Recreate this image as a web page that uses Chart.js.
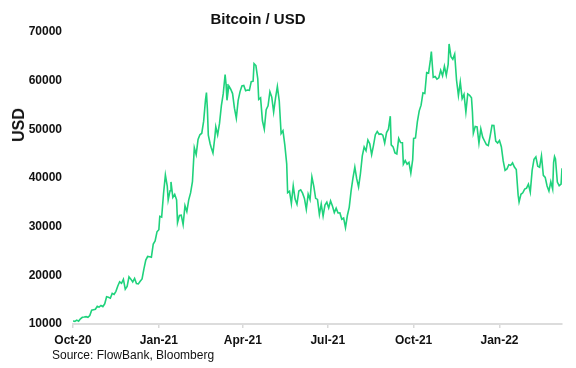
<!DOCTYPE html>
<html>
<head>
<meta charset="utf-8">
<script src="https://cdn.jsdelivr.net/npm/chart.js@4.4.1/dist/chart.umd.min.js"></script>
<style>
  html, body { margin: 0; padding: 0; background: #fff; }
  #wrap { position: relative; width: 576px; height: 368px; font-family: "Liberation Sans", Arial, sans-serif; }
  #title { position: absolute; left: 0; width: 516px; top: 10px; text-align: center; font-weight: bold; font-size: 15px; color: #111; }
  #ytitle { position: absolute; left: 19px; top: 125px; transform: translate(-50%, -50%) rotate(-90deg); font-weight: bold; font-size: 16px; color: #111; white-space: nowrap; }
  #source { position: absolute; left: 52px; top: 348px; font-size: 12px; color: #111; }
</style>
</head>
<body>
<div id="wrap">
  <canvas id="btcChart" width="576" height="368"></canvas>
  <div id="title">Bitcoin / USD</div>
  <div id="ytitle">USD</div>
  <div id="source">Source: FlowBank, Bloomberg</div>
</div>
<script>
// dates of the sampled closes (YYYY-MM-DD)
const dates = [
  "2020-10-01","2020-10-03","2020-10-05","2020-10-07","2020-10-09","2020-10-11","2020-10-13","2020-10-15","2020-10-17","2020-10-19","2020-10-21","2020-10-23","2020-10-25","2020-10-27","2020-10-29","2020-10-31",
  "2020-11-02","2020-11-04","2020-11-06","2020-11-08","2020-11-10","2020-11-12","2020-11-14","2020-11-16","2020-11-18","2020-11-20","2020-11-22","2020-11-24","2020-11-26","2020-11-28","2020-11-30",
  "2020-12-02","2020-12-04","2020-12-06","2020-12-08","2020-12-10","2020-12-12","2020-12-14","2020-12-16","2020-12-18","2020-12-20","2020-12-22","2020-12-24","2020-12-26","2020-12-28","2020-12-30",
  "2021-01-01","2021-01-02","2021-01-04","2021-01-06","2021-01-08","2021-01-10","2021-01-11","2021-01-13","2021-01-14","2021-01-16","2021-01-18","2021-01-20","2021-01-21","2021-01-23","2021-01-25","2021-01-27","2021-01-29","2021-01-31",
  "2021-02-02","2021-02-04","2021-02-06","2021-02-08","2021-02-10","2021-02-12","2021-02-14","2021-02-16","2021-02-18","2021-02-20","2021-02-21","2021-02-22","2021-02-23","2021-02-25","2021-02-26","2021-02-28",
  "2021-03-02","2021-03-03","2021-03-05","2021-03-07","2021-03-09","2021-03-11","2021-03-13","2021-03-14","2021-03-15","2021-03-17","2021-03-19","2021-03-21","2021-03-23","2021-03-25","2021-03-27","2021-03-29","2021-03-31",
  "2021-04-02","2021-04-04","2021-04-06","2021-04-08","2021-04-10","2021-04-12","2021-04-13","2021-04-15","2021-04-17","2021-04-18","2021-04-20","2021-04-22","2021-04-24","2021-04-26","2021-04-28","2021-04-30",
  "2021-05-02","2021-05-04","2021-05-06","2021-05-08","2021-05-10","2021-05-12","2021-05-14","2021-05-16","2021-05-18","2021-05-19","2021-05-21","2021-05-23","2021-05-25","2021-05-27","2021-05-29","2021-05-31",
  "2021-06-02","2021-06-04","2021-06-06","2021-06-08","2021-06-10","2021-06-12","2021-06-14","2021-06-16","2021-06-18","2021-06-20","2021-06-22","2021-06-24","2021-06-26","2021-06-28","2021-06-30",
  "2021-07-02","2021-07-04","2021-07-06","2021-07-08","2021-07-10","2021-07-12","2021-07-14","2021-07-16","2021-07-18","2021-07-20","2021-07-22","2021-07-24","2021-07-26","2021-07-28","2021-07-30",
  "2021-08-01","2021-08-03","2021-08-05","2021-08-07","2021-08-09","2021-08-11","2021-08-13","2021-08-15","2021-08-17","2021-08-19","2021-08-21","2021-08-23","2021-08-25","2021-08-27","2021-08-29","2021-08-31",
  "2021-09-02","2021-09-04","2021-09-06","2021-09-07","2021-09-09","2021-09-11","2021-09-13","2021-09-15","2021-09-17","2021-09-19","2021-09-20","2021-09-22","2021-09-24","2021-09-26","2021-09-28","2021-09-30",
  "2021-10-01","2021-10-03","2021-10-05","2021-10-07","2021-10-09","2021-10-11","2021-10-13","2021-10-15","2021-10-17","2021-10-19","2021-10-20","2021-10-22","2021-10-24","2021-10-26","2021-10-28","2021-10-30",
  "2021-11-01","2021-11-03","2021-11-05","2021-11-07","2021-11-08","2021-11-10","2021-11-12","2021-11-14","2021-11-16","2021-11-18","2021-11-20","2021-11-22","2021-11-24","2021-11-26","2021-11-28","2021-11-30",
  "2021-12-02","2021-12-03","2021-12-04","2021-12-06","2021-12-08","2021-12-10","2021-12-12","2021-12-14","2021-12-16","2021-12-18","2021-12-20","2021-12-22","2021-12-24","2021-12-26","2021-12-28","2021-12-30",
  "2022-01-01","2022-01-03","2022-01-05","2022-01-07","2022-01-09","2022-01-11","2022-01-13","2022-01-15","2022-01-17","2022-01-19","2022-01-21","2022-01-22","2022-01-24","2022-01-26","2022-01-28","2022-01-30",
  "2022-02-01","2022-02-03","2022-02-05","2022-02-07","2022-02-09","2022-02-11","2022-02-13","2022-02-15","2022-02-17","2022-02-19","2022-02-21","2022-02-23","2022-02-25","2022-02-27","2022-02-28",
  "2022-03-01","2022-03-02","2022-03-04","2022-03-06","2022-03-08","2022-03-09"
];

// BTC close in USD, same order as dates
const prices = [
  10620,10550,10790,10590,11060,11380,11430,11510,11370,11750,12820,12930,13030,13650,13460,13800,
  13560,14150,15590,15480,15300,16290,16070,16720,17800,18680,18370,19170,17150,17730,19700,
  19220,18660,19360,18320,18250,18800,19270,21310,23150,23870,23810,23730,26440,27080,28950,
  29370,32130,31970,36770,40600,38350,35500,37390,39190,36000,36630,35510,30830,32290,32360,30430,34320,33110,
  35510,36930,39270,46200,44800,47910,48880,49200,51680,56100,57540,54210,48820,47000,46340,45140,
  48380,50540,48880,51210,54880,57330,61240,59300,55960,58910,58250,57350,54340,52300,55970,57750,58920,
  59000,57940,58090,58000,59790,59890,63500,63110,60360,56150,56470,51760,50050,54020,54820,57750,
  56630,53560,56400,58800,55860,49150,49720,46760,42900,37000,37280,34770,38400,35680,34620,37330,
  37570,36880,35800,33560,36690,35550,40220,38350,35820,35600,32510,34660,32190,34430,35040,
  33840,35280,34240,32880,33810,32800,32820,31530,31780,29800,32290,33970,37340,39990,42240,
  39870,38150,40870,44560,46370,45590,47820,47050,44800,46720,48900,49550,48990,49070,48810,47170,
  49330,50030,52700,46810,46400,45170,44960,48140,47300,47260,42840,43580,42840,43210,41030,43790,
  48120,48230,51510,53800,54970,57490,57360,61670,61530,64260,65990,60690,60860,60330,60590,62140,
  61000,62950,61130,63330,67550,64930,64380,65460,60080,56940,59740,56320,57200,53570,57290,57010,
  56500,53600,49200,50580,50500,47150,50100,48380,47600,46850,46680,48620,50820,50800,47590,47190,
  47690,46430,43500,41560,41860,42740,42590,43100,42250,41740,36480,35070,36650,36950,37710,37920,
  38740,37100,41570,43840,44350,42410,42210,44540,40540,40120,38350,37300,39240,37710,43190,
  44420,43920,39150,38420,38740,42000
];

const startDate = "2020-10-01";
const tickDates = ["2020-10-01","2021-01-01","2021-04-01","2021-07-01","2021-10-01","2022-01-01"];
const tickLabels = ["Oct-20","Jan-21","Apr-21","Jul-21","Oct-21","Jan-22"];
const yTicks = [10000, 20000, 30000, 40000, 50000, 60000, 70000];

// dagen sinds startdatum
const dayNr = (d) => Math.round((Date.parse(d) - Date.parse(startDate)) / 86400000);

const points = dates.map((d, i) => ({x: dayNr(d), y: prices[i]}));
const tickDays = tickDates.map(dayNr);

const font = {family: '"Liberation Sans", Arial, sans-serif', size: 12, weight: "bold"};

new Chart(document.getElementById("btcChart"), {
  type: "line",
  data: {
    datasets: [
      {
        label: "Bitcoin / USD",
        data: points,
        borderColor: "#1fd27c",
        borderWidth: 1.6,
        pointRadius: 0,
        tension: 0,
        fill: false,
      },
    ],
  },
  options: {
    responsive: false,
    animation: false,
    layout: {padding: {top: 32, right: 14, left: 0, bottom: 0}},
    plugins: {legend: {display: false}, tooltip: {enabled: false}, title: {display: false}},
    scales: {
      x: {
        type: "linear",
        min: 0,
        max: dayNr(dates[dates.length - 1]),
        afterBuildTicks: (axis) => {
          axis.ticks = tickDays.map((v) => ({value: v}));
        },
        afterFit: (axis) => {
          axis.height = 44;
        },
        ticks: {
          autoSkip: false,
          maxRotation: 0,
          padding: 5,
          color: "#111",
          font: font,
          callback: (v) => tickLabels[tickDays.indexOf(v)],
        },
        grid: {drawOnChartArea: false, drawTicks: true, tickLength: 4, color: "#d9d9d9", lineWidth: 1.5},
        border: {display: true, color: "#dcdcdc", width: 2},
      },
      y: {
        min: 10000,
        max: 70000,
        afterBuildTicks: (axis) => {
          axis.ticks = yTicks.map((v) => ({value: v}));
        },
        afterFit: (axis) => {
          axis.width = 73;
        },
        ticks: {color: "#111", font: font, padding: 11, callback: (v) => String(v)},
        grid: {display: false, drawTicks: false},
        border: {display: false},
      },
    },
  },
});
</script>
</body>
</html>
